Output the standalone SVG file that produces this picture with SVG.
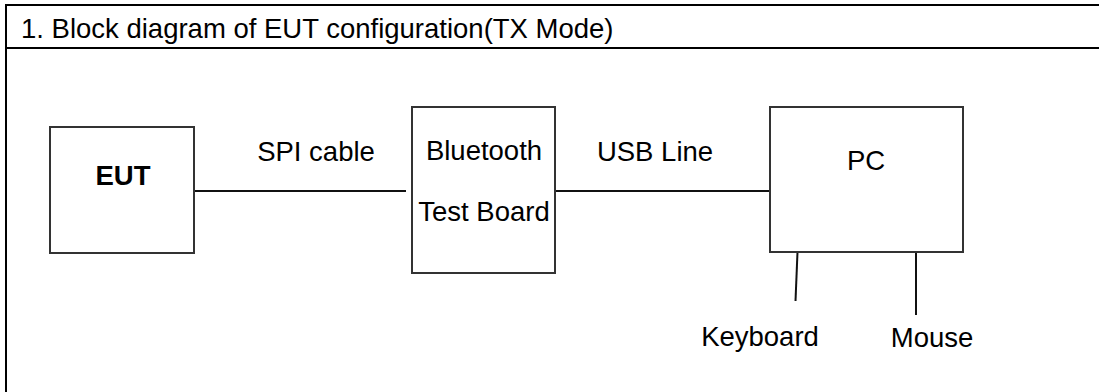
<svg xmlns="http://www.w3.org/2000/svg" width="1099" height="392" viewBox="0 0 1099 392">
<style>
.frame{fill:none;stroke:#000;stroke-width:2}
.box{fill:#fff;stroke:#333;stroke-width:2}
.wire{fill:none;stroke:#111;stroke-width:2}
text{font-family:"Liberation Sans",Arial,sans-serif;font-size:27.5px;fill:#000}
.c{text-anchor:middle}
.b{font-weight:bold}
</style>
<rect width="1099" height="392" fill="#fff"/>
<g id="frame">
<path class="frame" d="M6,400 V5 H1105 M6,48 H1105"/>
<text x="21" y="38">1. Block diagram of EUT configuration(TX Mode)</text>
</g>
<g id="connectors">
<line class="wire" x1="194" y1="191" x2="406" y2="191"/>
<text class="c" x="316" y="161">SPI cable</text>
<line class="wire" x1="555" y1="191" x2="770" y2="191"/>
<text class="c" x="655" y="161">USB Line</text>
<line class="wire" x1="797.5" y1="252" x2="795.5" y2="301"/>
<line class="wire" x1="916" y1="252" x2="916" y2="315"/>
</g>
<g id="eut">
<rect class="box" x="50" y="127" width="144" height="126"/>
<text class="c b" x="123" y="185">EUT</text>
</g>
<g id="bt">
<rect class="box" x="412" y="107" width="143" height="166"/>
<text class="c" x="484" y="160">Bluetooth</text>
<text class="c" x="484" y="221">Test Board</text>
</g>
<g id="pc">
<rect class="box" x="770" y="107" width="193" height="145"/>
<text class="c" x="866" y="170">PC</text>
</g>
<g id="keyboard">
<text class="c" x="760" y="346">Keyboard</text>
</g>
<g id="mouse">
<text class="c" x="932" y="347">Mouse</text>
</g>
</svg>
